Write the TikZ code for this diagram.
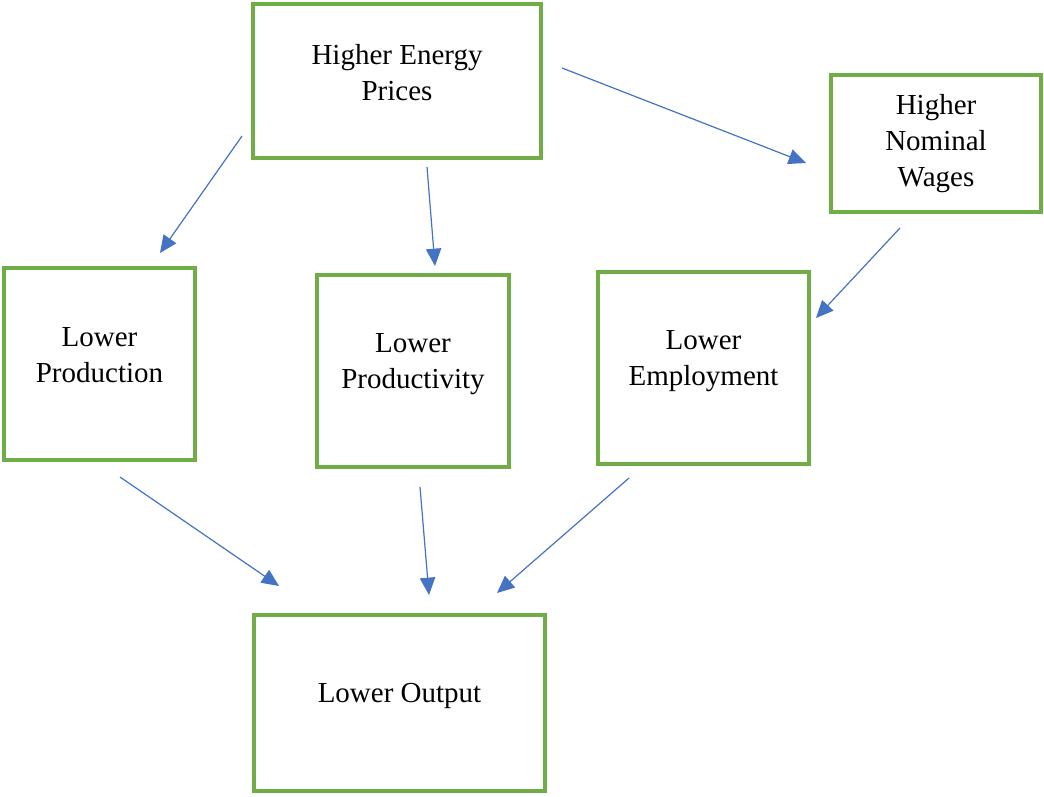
\documentclass[tikz,border=0pt]{standalone}
\usepackage{fontspec}
\setmainfont{Liberation Serif}
\usetikzlibrary{arrows.meta}
\definecolor{boxgreen}{HTML}{70AD47}
\definecolor{arrowblue}{HTML}{4472C4}
\begin{document}
\begin{tikzpicture}[x=0.75pt,y=-0.75pt,
  box/.style={draw=boxgreen,line width=2.3pt,rectangle,inner sep=0pt},
  txt/.style={align=center,inner sep=0pt,font=\fontsize{21.75}{27}\selectfont},
  link/.style={draw=arrowblue,line width=0.9pt,-{Triangle[length=13pt,width=11.5pt]}}]
\useasboundingbox (0,0) rectangle (1044,796);

% boxes
\node[box,minimum width=288*0.75pt,minimum height=154*0.75pt] (hep) at (397,81) {};
\node[box,minimum width=210*0.75pt,minimum height=137*0.75pt] (hnw) at (936,143.5) {};
\node[box,minimum width=191*0.75pt,minimum height=192*0.75pt] (lpn) at (99.5,364) {};
\node[box,minimum width=192*0.75pt,minimum height=192*0.75pt] (lpy) at (413,371) {};
\node[box,minimum width=211*0.75pt,minimum height=192*0.75pt] (lem) at (703.5,368) {};
\node[box,minimum width=291*0.75pt,minimum height=176*0.75pt] (lou) at (399.5,703) {};

% labels
\node[txt] (thep) at (397,73) {Higher Energy\\Prices};
\node[txt] (thnw) at (936,144) {Higher\\Nominal\\Wages};
\node[txt] (tlpn) at (99.5,355) {Lower\\Production};
\node[txt] (tlpy) at (413,364) {Lower\\Productivity};
\node[txt] (tlem) at (703.5,361) {Lower\\Employment};
\node[txt] (tlou) at (399.5,696) {Lower Output};

% arrow end points
\coordinate (a1s) at (242,136); \coordinate (a1e) at (160,253);
\coordinate (a2s) at (427,167); \coordinate (a2e) at (435,266);
\coordinate (a3s) at (562,68);  \coordinate (a3e) at (806,163);
\coordinate (a4s) at (900,228); \coordinate (a4e) at (816,318);
\coordinate (a5s) at (120,477); \coordinate (a5e) at (279,586);
\coordinate (a6s) at (420,487); \coordinate (a6e) at (429,595);
\coordinate (a7s) at (629,478); \coordinate (a7e) at (497,593);

\draw[link] (a1s) -- (a1e);
\draw[link] (a2s) -- (a2e);
\draw[link] (a3s) -- (a3e);
\draw[link] (a4s) -- (a4e);
\draw[link] (a5s) -- (a5e);
\draw[link] (a6s) -- (a6e);
\draw[link] (a7s) -- (a7e);
\end{tikzpicture}
\end{document}
